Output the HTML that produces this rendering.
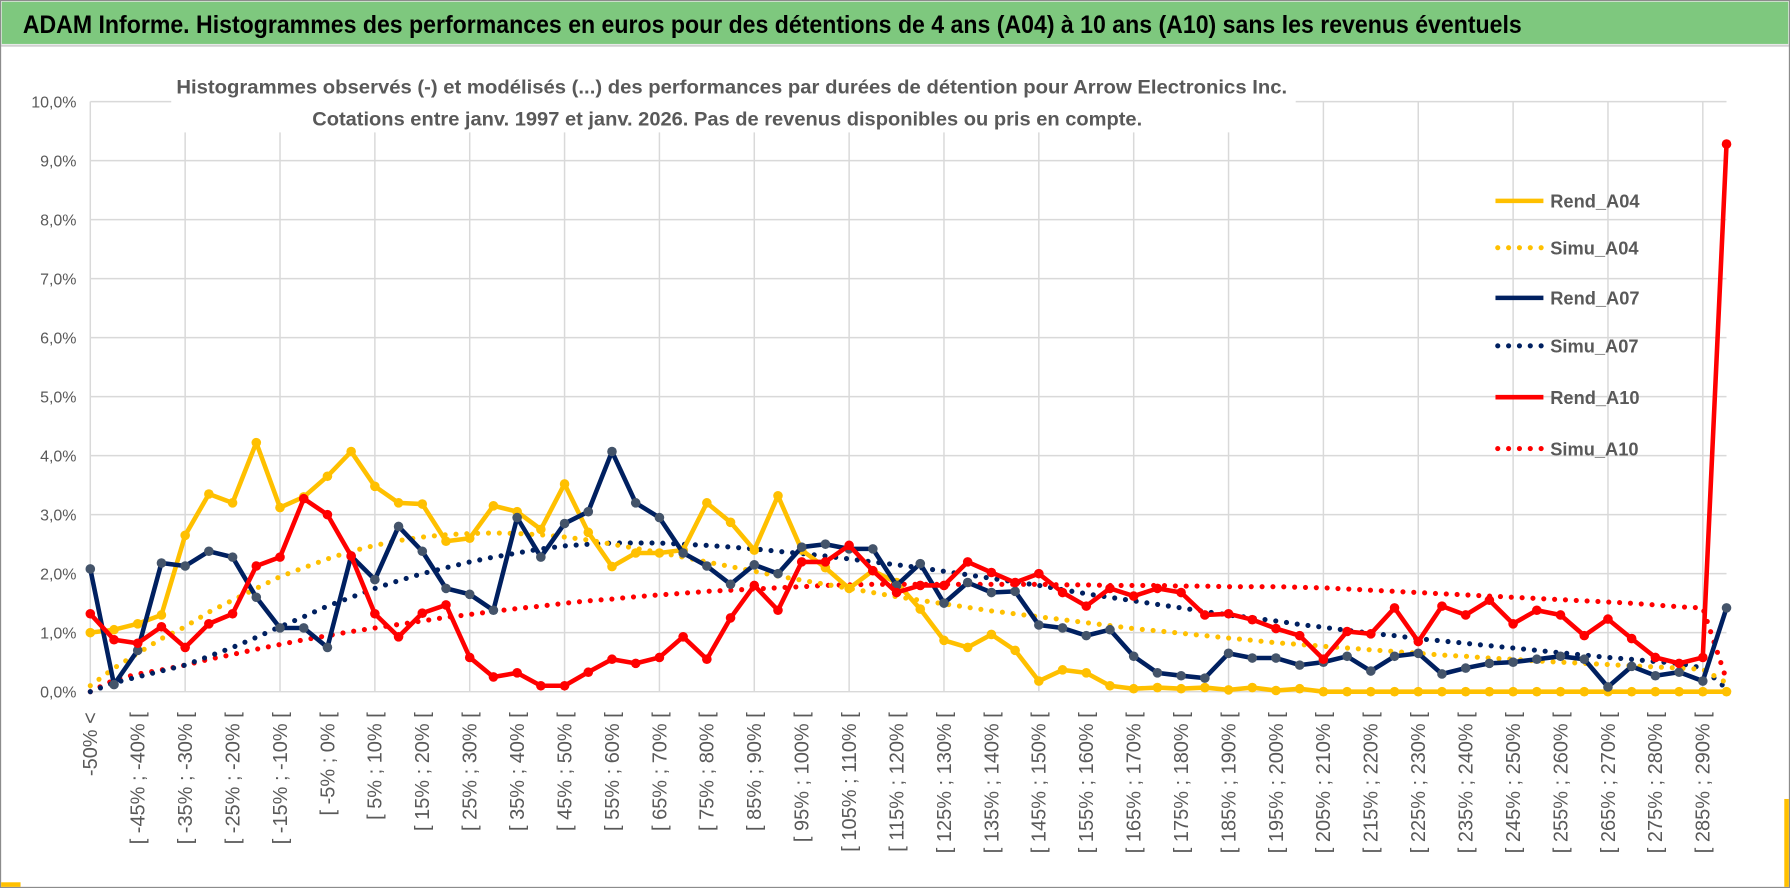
<!DOCTYPE html>
<html><head><meta charset="utf-8">
<style>
html,body{margin:0;padding:0;background:#fff;}
svg{display:block;font-family:"Liberation Sans",sans-serif;}
</style></head>
<body>
<svg id="chart" width="1790" height="888" viewBox="0 0 1568 778" preserveAspectRatio="none" xmlns="http://www.w3.org/2000/svg">
<rect x="0" y="0" width="1568" height="778" fill="#fff"/>
<rect x="1.5" y="1.5" width="1565" height="37" fill="#7ec87e"/>
<line x1="1" y1="40" x2="1567" y2="40" stroke="#d0d0d0" stroke-width="2"/>
<text x="20" y="29" font-size="22" font-weight="bold" fill="#000" textLength="1313" lengthAdjust="spacingAndGlyphs">ADAM Informe. Histogrammes des performances en euros pour des détentions de 4 ans (A04) à 10 ans (A10) sans les revenus éventuels</text>
<rect x="0.5" y="0.5" width="1567" height="777" fill="none" stroke="#8c8c8c" stroke-width="1"/>
<rect x="1" y="773" width="17" height="4" fill="#ffc000"/>
<rect x="1563" y="700" width="4" height="77" fill="#ffc000"/>
<g id="grid"></g>
<g id="ylabels"></g>
<g id="xlabels"></g>
<g id="series"></g>
<rect x="150" y="58" width="985" height="58" fill="#fff"/>
<text x="641" y="82" text-anchor="middle" font-size="17" font-weight="bold" fill="#595959" textLength="973" lengthAdjust="spacingAndGlyphs">Histogrammes observés (-) et modélisés (...) des performances par durées de détention pour Arrow Electronics Inc.</text>
<text x="637" y="110" text-anchor="middle" font-size="17" font-weight="bold" fill="#595959" textLength="727" lengthAdjust="spacingAndGlyphs">Cotations entre janv. 1997 et janv. 2026. Pas de revenus disponibles ou pris en compte.</text>
<g id="legend"></g>
</svg>
<script>
// ---- data ----
const categories = (function(){const c=["-50% <"];for(let i=1;i<70;i++){const a=-50+5*(i-1);c.push("[ "+a+"% ; "+(a+5)+"% [");}return c;})();
const rendA04 = [1.0,1.05,1.15,1.3,2.65,3.35,3.2,4.22,3.12,3.3,3.65,4.07,3.48,3.2,3.18,2.55,2.6,3.15,3.05,2.75,3.52,2.7,2.12,2.35,2.35,2.4,3.2,2.87,2.4,3.32,2.4,2.1,1.75,2.05,1.85,1.4,0.87,0.75,0.97,0.7,0.18,0.37,0.32,0.1,0.05,0.07,0.05,0.07,0.03,0.07,0.02,0.05,0,0,0,0,0,0,0,0,0,0,0,0,0,0,0,0,0,0];
const rendA07 = [2.08,0.12,0.7,2.18,2.13,2.38,2.28,1.6,1.08,1.08,0.75,2.3,1.9,2.8,2.38,1.75,1.65,1.38,2.95,2.28,2.85,3.05,4.07,3.2,2.95,2.35,2.13,1.82,2.15,2.0,2.45,2.5,2.42,2.42,1.8,2.17,1.5,1.85,1.68,1.7,1.13,1.08,0.95,1.05,0.6,0.32,0.27,0.23,0.65,0.57,0.57,0.45,0.5,0.6,0.35,0.6,0.65,0.3,0.4,0.48,0.5,0.55,0.6,0.55,0.08,0.43,0.27,0.33,0.18,1.42];
const rendA10 = [1.32,0.88,0.82,1.1,0.75,1.15,1.32,2.13,2.28,3.27,3.0,2.3,1.32,0.93,1.33,1.47,0.58,0.25,0.32,0.1,0.1,0.33,0.55,0.48,0.58,0.93,0.55,1.25,1.8,1.38,2.2,2.2,2.48,2.05,1.68,1.8,1.8,2.2,2.02,1.85,2.0,1.68,1.45,1.75,1.62,1.75,1.68,1.3,1.32,1.22,1.07,0.95,0.55,1.02,0.98,1.42,0.85,1.45,1.3,1.55,1.15,1.38,1.3,0.95,1.23,0.9,0.58,0.48,0.58,9.28];
const simuA04 = [0.1,0.4,0.65,0.9,1.1,1.35,1.55,1.75,1.95,2.1,2.25,2.38,2.48,2.56,2.62,2.66,2.68,2.69,2.68,2.66,2.62,2.57,2.5,2.43,2.36,2.28,2.2,2.12,2.04,1.96,1.89,1.82,1.75,1.68,1.61,1.55,1.49,1.43,1.37,1.32,1.27,1.22,1.17,1.12,1.07,1.03,0.99,0.95,0.91,0.87,0.83,0.8,0.77,0.74,0.71,0.68,0.65,0.62,0.6,0.57,0.55,0.52,0.5,0.48,0.46,0.44,0.42,0.4,0.38,0.15];
const simuA07 = [0.0,0.15,0.25,0.35,0.45,0.6,0.75,0.92,1.1,1.27,1.45,1.6,1.75,1.88,2.0,2.1,2.2,2.28,2.35,2.42,2.47,2.5,2.52,2.52,2.52,2.5,2.48,2.45,2.42,2.38,2.34,2.3,2.25,2.2,2.15,2.1,2.04,1.98,1.92,1.86,1.8,1.73,1.66,1.6,1.54,1.48,1.42,1.36,1.3,1.25,1.2,1.14,1.09,1.04,0.99,0.95,0.9,0.86,0.82,0.78,0.74,0.7,0.66,0.62,0.58,0.55,0.51,0.48,0.4,0.05];
const simuA10 = [0.0,0.2,0.3,0.37,0.45,0.55,0.63,0.72,0.8,0.88,0.95,1.02,1.08,1.14,1.2,1.26,1.31,1.36,1.41,1.45,1.5,1.54,1.57,1.61,1.64,1.67,1.7,1.72,1.74,1.76,1.78,1.8,1.81,1.82,1.82,1.82,1.82,1.82,1.82,1.82,1.82,1.81,1.81,1.8,1.8,1.8,1.79,1.79,1.78,1.78,1.78,1.77,1.76,1.74,1.72,1.7,1.68,1.66,1.64,1.62,1.6,1.58,1.56,1.54,1.52,1.5,1.47,1.44,1.42,0.2];
const yTicks = [0,1,2,3,4,5,6,7,8,9,10];
const yTickLabels = ["0,0%","1,0%","2,0%","3,0%","4,0%","5,0%","6,0%","7,0%","8,0%","9,0%","10,0%"];
const seriesNames = ["Rend_A04","Simu_A04","Rend_A07","Simu_A07","Rend_A10","Simu_A10"];

// ---- axes ----
const NS="http://www.w3.org/2000/svg";
const X0=79.1, X1=1512.4, Y0=606, Y10=89;
function xs(i){return X0+(X1-X0)*i/(categories.length-1);}
function ys(v){return Y0+(Y10-Y0)*v/10;}
function mk(tag,attrs,parent){const e=document.createElementNS(NS,tag);for(const k in attrs)e.setAttribute(k,attrs[k]);parent.appendChild(e);return e;}

const grid=document.getElementById('grid');
yTicks.forEach(function(t){
  const l=mk('line',{x1:X0,x2:X1,y1:ys(t),y2:ys(t),stroke:'#d9d9d9','stroke-width':1.3},grid);
  
  
});
for(let i=0;i<categories.length;i+=4){
  const l=mk('line',{x1:xs(i),x2:xs(i),y1:ys(10),y2:ys(0),stroke:'#d9d9d9','stroke-width':1.3},grid);
  
  
}
const yl=document.getElementById('ylabels');
yTicks.forEach(function(t,k){
  const e=mk('text',{x:67,y:ys(t)+5,'text-anchor':'end','font-size':14,fill:'#595959'},yl);
  e.textContent=yTickLabels[k];
  
  
});
const xl=document.getElementById('xlabels');
for(let i=0;i<categories.length;i+=2){
  const x=xs(i)+6,y=624;
  const e=mk('text',{x:x,y:y,'text-anchor':'end','font-size':17.5,fill:'#595959',transform:'rotate(-90 '+x+' '+y+')'},xl);
  e.textContent=categories[i];
  
  
}

// ---- series ----
const sg=document.getElementById('series');
function pts(arr){return arr.map(function(v,i){return xs(i).toFixed(1)+','+ys(v).toFixed(1);}).join(' ');}
function dotted(arr,color,name){
  const p=mk('polyline',{points:pts(arr),fill:'none',stroke:color,'stroke-width':4.5,'stroke-linecap':'round','stroke-dasharray':'0 9.5'},sg);
  
  
}
function solid(arr,color,mcolor,name){
  const g=mk('g',{},sg);
  
  
  const p=mk('polyline',{points:pts(arr),fill:'none',stroke:color,'stroke-width':4,'stroke-linejoin':'round'},g);
  
  
  arr.forEach(function(v,i){
    const c=mk('circle',{cx:xs(i),cy:ys(v),r:4.2,fill:mcolor},g);
    
    
  });
}
dotted(simuA10,'#ff0000','simu-a10-series');
dotted(simuA07,'#002060','simu-a07-series');
dotted(simuA04,'#ffc000','simu-a04-series');
solid(rendA04,'#ffc000','#ffc000','rend-a04-series');
solid(rendA07,'#002060','#44546a','rend-a07-series');
solid(rendA10,'#ff0000','#ff0000','rend-a10-series');

// ---- legend ----
const lg=document.getElementById('legend');
const legColors=['#ffc000','#ffc000','#002060','#002060','#ff0000','#ff0000'];
const legY=[176,217,261,303,348,393];
seriesNames.forEach(function(n,k){
  const g=mk('g',{},lg);
  
  
  const attrs={x1:1310,x2:1352,y1:legY[k],y2:legY[k],stroke:legColors[k],'stroke-width':4};
  if(k%2===1){attrs['stroke-dasharray']='0 9.5';attrs['stroke-linecap']='round';attrs['stroke-width']=4.5;attrs.x1=1312;}
  const l=mk('line',attrs,g);
  
  
  const t=mk('text',{x:1358,y:legY[k]+6,'font-size':16,'font-weight':'bold',fill:'#595959'},g);
  t.textContent=n;
  
  
});
</script>
</body></html>
